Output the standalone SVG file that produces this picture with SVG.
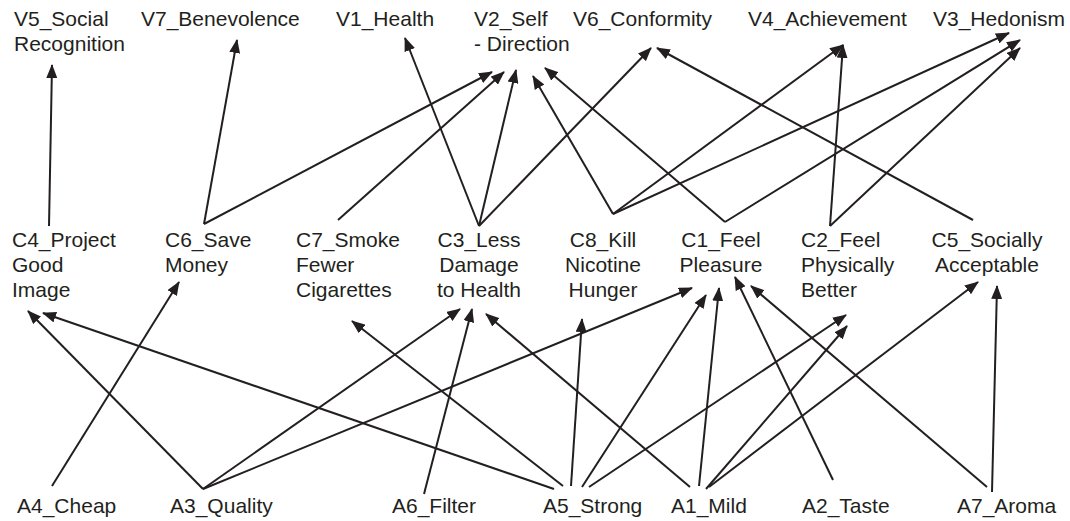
<svg xmlns="http://www.w3.org/2000/svg" width="1070" height="521" viewBox="0 0 1070 521">
<style>
text{font-family:"Liberation Sans",Arial,sans-serif;font-size:21px;fill:#231f20}
.m{text-anchor:middle}
#edges line{stroke:#231f20;stroke-width:2;fill:none;marker-end:url(#ah)}
</style>
<defs>
<marker id="ah" markerUnits="userSpaceOnUse" markerWidth="14" markerHeight="11" refX="13" refY="5.5" orient="auto">
<path d="M0,0 L14,5.5 L0,11 Z" fill="#231f20"/>
</marker>
</defs>
<rect width="1070" height="521" fill="#fff"/>
<g id="V5"><text><tspan x="14" y="26">V5_Social</tspan><tspan x="14" y="51">Recognition</tspan></text></g>
<g id="V7"><text x="141" y="26">V7_Benevolence</text></g>
<g id="V1"><text x="336" y="26">V1_Health</text></g>
<g id="V2"><text><tspan x="474" y="26">V2_Self</tspan><tspan x="474" y="51">- Direction</tspan></text></g>
<g id="V6"><text x="573" y="26">V6_Conformity</text></g>
<g id="V4"><text x="748" y="26">V4_Achievement</text></g>
<g id="V3"><text x="933" y="26">V3_Hedonism</text></g>

<g id="C4"><text><tspan x="12" y="247">C4_Project</tspan><tspan x="12" y="272">Good</tspan><tspan x="12" y="297">Image</tspan></text></g>
<g id="C6"><text><tspan x="165" y="247">C6_Save</tspan><tspan x="165" y="272">Money</tspan></text></g>
<g id="C7"><text><tspan x="296" y="247">C7_Smoke</tspan><tspan x="296" y="272">Fewer</tspan><tspan x="296" y="297">Cigarettes</tspan></text></g>
<g id="C3"><text class="m"><tspan x="479" y="247">C3_Less</tspan><tspan x="479" y="272">Damage</tspan><tspan x="479" y="297">to Health</tspan></text></g>
<g id="C8"><text class="m"><tspan x="603" y="247">C8_Kill</tspan><tspan x="603" y="272">Nicotine</tspan><tspan x="603" y="297">Hunger</tspan></text></g>
<g id="C1"><text class="m"><tspan x="721" y="247">C1_Feel</tspan><tspan x="721" y="272">Pleasure</tspan></text></g>
<g id="C2"><text><tspan x="801" y="247">C2_Feel</tspan><tspan x="801" y="272">Physically</tspan><tspan x="801" y="297">Better</tspan></text></g>
<g id="C5"><text class="m"><tspan x="987" y="247">C5_Socially</tspan><tspan x="987" y="272">Acceptable</tspan></text></g>

<g id="A4"><text x="17" y="513">A4_Cheap</text></g>
<g id="A3"><text x="170" y="513">A3_Quality</text></g>
<g id="A6"><text x="392" y="513">A6_Filter</text></g>
<g id="A5"><text x="543" y="513">A5_Strong</text></g>
<g id="A1"><text x="671" y="513">A1_Mild</text></g>
<g id="A2"><text x="802" y="513">A2_Taste</text></g>
<g id="A7"><text x="957" y="513">A7_Aroma</text></g>

<g id="edges">
<line x1="49" y1="226" x2="52" y2="65"/>
<line x1="204" y1="224" x2="237" y2="40"/>
<line x1="204" y1="224" x2="492" y2="72"/>
<line x1="338" y1="220" x2="504" y2="72"/>
<line x1="479" y1="226" x2="405" y2="38"/>
<line x1="479" y1="226" x2="516" y2="70"/>
<line x1="479" y1="226" x2="651" y2="48"/>
<line x1="613" y1="214" x2="533" y2="76"/>
<line x1="613" y1="214" x2="843" y2="45"/>
<line x1="613" y1="214" x2="1009" y2="33"/>
<line x1="725" y1="222" x2="545" y2="68"/>
<line x1="725" y1="222" x2="1020" y2="40"/>
<line x1="830" y1="226" x2="843" y2="45"/>
<line x1="830" y1="226" x2="1020" y2="48"/>
<line x1="973" y1="220" x2="657" y2="48"/>

<line x1="52" y1="486" x2="179" y2="282"/>
<line x1="203" y1="489" x2="28" y2="311"/>
<line x1="203" y1="489" x2="460" y2="309"/>
<line x1="203" y1="489" x2="692" y2="288"/>
<line x1="424" y1="494" x2="472" y2="309"/>
<line x1="554" y1="489" x2="43" y2="313"/>
<line x1="563" y1="486" x2="352" y2="321"/>
<line x1="571" y1="486" x2="582" y2="319"/>
<line x1="582" y1="487" x2="706" y2="295"/>
<line x1="589" y1="487" x2="846" y2="315"/>
<line x1="690" y1="487" x2="486" y2="314"/>
<line x1="699" y1="486" x2="719" y2="288"/>
<line x1="706" y1="489" x2="847" y2="326"/>
<line x1="709" y1="487" x2="978" y2="282"/>
<line x1="833" y1="480" x2="735" y2="277"/>
<line x1="987" y1="487" x2="751" y2="286"/>
<line x1="992" y1="492" x2="997" y2="286"/>
</g>
</svg>
